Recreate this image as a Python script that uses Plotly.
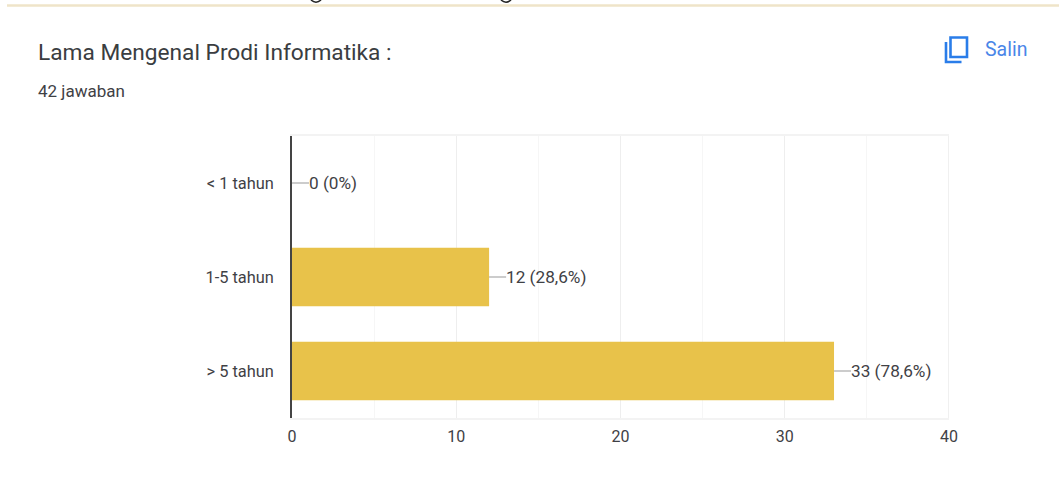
import plotly.graph_objects as go

categories = ["< 1 tahun", "1-5 tahun", "> 5 tahun"]
values = [0, 12, 33]
value_labels = ["0 (0%)", "12 (28,6%)", "33 (78,6%)"]
x_ticks = [0, 10, 20, 30, 40]

W, H = 1059, 498
L, R, T, B = 292, 949, 136, 418
TEXT = "#3f4145"
FONT = "Roboto, Arial, sans-serif"

def px(x):
    return (x - L) / (R - L)

def py(y):
    return (B - y) / (B - T)

fig = go.Figure(go.Bar(
    x=values, y=categories, orientation="h",
    marker=dict(color="#e8c24a", line=dict(width=0)),
    width=0.62, hoverinfo="skip",
))

annotations = [
    dict(x=v, y=c, text=t, xref="x", yref="y", showarrow=True, arrowhead=0,
         arrowwidth=1.2, arrowcolor="#9a9a9a", ax=17, ay=0, xanchor="left",
         font=dict(family=FONT, size=17.2, color=TEXT), standoff=0, borderpad=0, borderwidth=0)
    for v, c, t in zip(values, categories, value_labels)
]
annotations += [
    dict(x=px(35.5), y=py(52), xref="paper", yref="paper", text="Lama Mengenal Prodi Informatika :",
         showarrow=False, xanchor="left", yanchor="middle", font=dict(family=FONT, size=22.7, color="#3a3d41")),
    dict(x=px(35.5), y=py(90.5), xref="paper", yref="paper", text="42 jawaban",
         showarrow=False, xanchor="left", yanchor="middle", font=dict(family=FONT, size=17, color=TEXT)),
    dict(x=px(983), y=py(49.5), xref="paper", yref="paper", text="Salin",
         showarrow=False, xanchor="left", yanchor="middle", font=dict(family=FONT, size=19.5, color="#4a86e8")),
]

line = dict(color="#2a7de9", width=2.6)
tail = dict(color="#222222", width=1.6)
shapes = [
    dict(type="line", xref="paper", yref="paper", x0=px(7), x1=px(W), y0=py(5.5), y1=py(5.5),
         line=dict(color="#efe4c9", width=2.5)),
    dict(type="rect", xref="paper", yref="paper", x0=px(950.5), x1=px(967), y0=py(37.5), y1=py(57),
         line=line),
    dict(type="path", xref="paper", yref="paper",
         path=f"M {px(946)} {py(42)} L {px(946)} {py(62)} L {px(961.5)} {py(62)}", line=line),
    dict(type="path", xref="paper", yref="paper",
         path=f"M {px(311)} {py(0)} Q {px(316)} {py(4.5)} {px(321)} {py(0)}", line=tail),
    dict(type="path", xref="paper", yref="paper",
         path=f"M {px(501)} {py(0)} Q {px(506)} {py(4.5)} {px(511)} {py(0)}", line=tail),
    dict(type="line", xref="x", yref="paper", x0=x_ticks[-1], x1=x_ticks[-1], y0=0, y1=1,
         line=dict(color="#f0f0f0", width=2)),
]

fig.update_layout(
    width=W, height=H,
    margin=dict(l=L, r=W - R, t=T, b=H - B, autoexpand=False),
    paper_bgcolor="white", plot_bgcolor="white",
    showlegend=False,
    annotations=annotations,
    shapes=shapes,
    font=dict(family=FONT, size=16, color=TEXT),
    xaxis=dict(
        range=[0, 40], tickvals=x_ticks, showgrid=True, gridcolor="#eeeeee", gridwidth=1,
        zeroline=False, showline=True, linecolor="#f3f3f3", linewidth=1.5, mirror=True,
        ticks="", ticklabelstandoff=3,
        minor=dict(dtick=5, showgrid=True, gridcolor="#f6f6f6", gridwidth=1, ticks=""),
        tickfont=dict(family=FONT, size=16, color=TEXT),
    ),
    yaxis=dict(
        autorange="reversed", showline=True, linecolor="#444444", linewidth=1.6,
        showgrid=False, ticks="", ticklabelstandoff=13,
        tickfont=dict(family=FONT, size=16.4, color=TEXT),
    ),
)

fig.write_html("out.html", post_script="document.body.style.margin='0';document.body.style.overflow='hidden';",
               config=dict(displayModeBar=False))
